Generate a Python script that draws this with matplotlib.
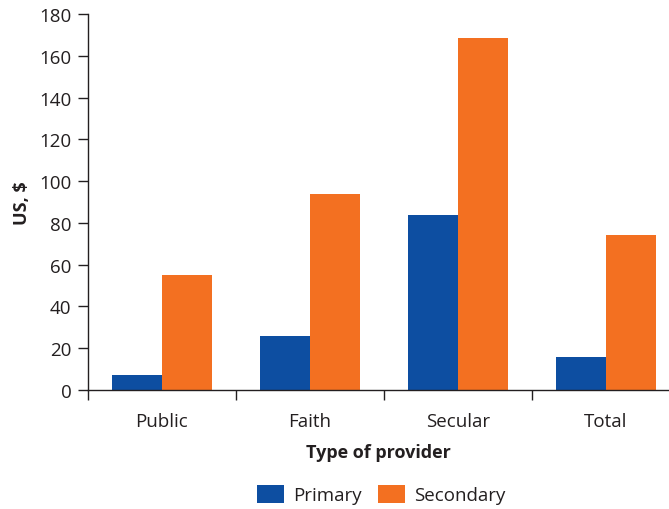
import matplotlib.pyplot as plt
import numpy as np

plt.rcParams['font.family'] = ['Open Sans', 'DejaVu Sans']

# data
providers = ['Public', 'Faith', 'Secular', 'Total']
primary = [7, 26, 84, 16]
secondary = [55, 94, 168.5, 74]

blue = '#0D4EA1'
orange = '#F37021'
ink = '#231F20'

fig = plt.figure(figsize=(6.69, 5.10), dpi=100)
ax = fig.add_axes([0.1315, 0.2333, 0.8685, 0.7373])

x = np.arange(len(providers))
w = 0.338
ax.bar(x - w / 2, primary, w, color=blue, label='Primary')
ax.bar(x + w / 2, secondary, w, color=orange, label='Secondary')

ax.set_xlim(-0.5, 3.426)
ax.set_ylim(0, 180)
ax.set_yticks(range(0, 181, 20))
ax.set_xticks(x)
ax.set_xticklabels(providers)
ax.tick_params(axis='x', length=0, pad=16, labelsize=13.5, colors=ink)
ax.set_xticks([-0.5, 0.5, 1.5, 2.5], minor=True)
ax.tick_params(axis='x', which='minor', length=7, width=1, color=ink)
ax.tick_params(axis='y', length=7, width=1, labelsize=13.5, colors=ink, pad=5)

for s in ['top', 'right']:
    ax.spines[s].set_visible(False)
for s in ['left', 'bottom']:
    ax.spines[s].set_color(ink)
    ax.spines[s].set_linewidth(1)

ax.set_ylabel('US, $', fontsize=13, fontweight='bold', color=ink, labelpad=6)
ax.set_xlabel('Type of provider', fontsize=13, fontweight='bold', color=ink, labelpad=9)

fig.legend(loc='center', bbox_to_anchor=(0.570, 0.029), ncol=2, frameon=False,
           fontsize=13.5, handlelength=1.4, handleheight=1.1, columnspacing=0.9,
           handletextpad=0.5, labelcolor=ink)

fig.savefig('out.png', dpi=100)
